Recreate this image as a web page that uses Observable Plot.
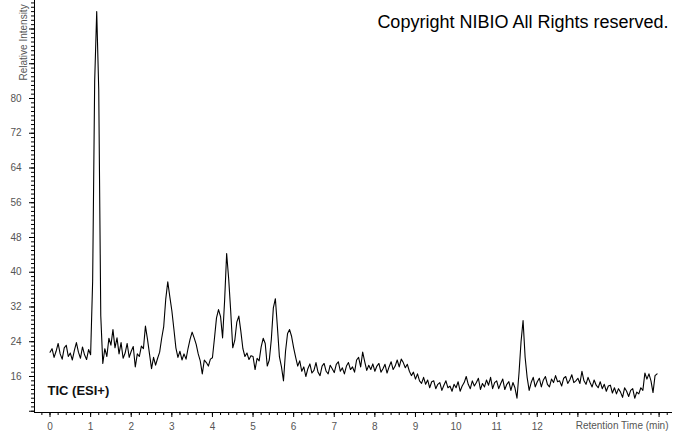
<!DOCTYPE html>
<html>
<head>
<meta charset="utf-8">
<script src="https://cdn.jsdelivr.net/npm/d3@7"></script>
<script src="https://cdn.jsdelivr.net/npm/@observablehq/plot@0.6"></script>
<style>
  html, body { margin: 0; padding: 0; background: #fff; }
  #chart svg { display: block; }
</style>
</head>
<body>
<div id="chart"></div>
<script>
// Retention time sampling of the trace (min)
const tStart = 0;
const tStep = 0.05;

// TIC (ESI+) relative intensity, one value every 0.05 min
const intensity = [
  // 0–1 min
  21.6, 22.4, 20.4, 21.8, 23.6, 21.2, 20.0, 22.6, 23.2, 20.6, 21.4, 19.8, 22.0, 23.8, 21.6, 20.2, 22.8, 21.0, 19.9, 22.2,
  // 1–2 min
  21.0, 38.0, 84.0, 100.0, 82.0, 30.0, 19.0, 22.4, 20.6, 24.8, 23.2, 26.8, 22.6, 24.9, 21.2, 23.8, 20.2, 21.4, 23.6, 20.4,
  // 2–3 min
  21.8, 22.9, 18.2, 21.2, 20.6, 23.0, 22.4, 27.6, 24.6, 21.2, 17.8, 20.4, 18.6, 20.2, 21.6, 24.8, 27.5, 33.8, 37.8, 34.4,
  // 3–4 min
  31.2, 27.0, 22.6, 20.4, 21.8, 19.8, 21.2, 20.0, 22.5, 24.6, 26.2, 24.9, 23.4, 21.2, 19.6, 16.6, 19.8, 19.2, 18.4, 20.0,
  // 4–5 min
  20.3, 24.8, 29.5, 31.4, 29.8, 24.9, 33.5, 44.3, 38.5, 31.0, 22.6, 24.3, 28.5, 29.9, 26.4, 22.4, 20.6, 21.4, 19.9, 20.8,
  // 5–6 min
  20.6, 17.6, 20.2, 19.6, 22.8, 24.8, 23.6, 18.4, 19.8, 24.5, 31.8, 33.9, 27.4, 20.5, 18.2, 15.0, 21.8, 25.9, 26.8, 25.2,
  // 6–7 min
  22.6, 20.4, 18.4, 19.6, 17.2, 18.2, 16.0, 17.8, 18.9, 16.8, 17.4, 19.2, 17.0, 16.2, 18.4, 19.0, 17.2, 16.6, 18.6, 17.8,
  // 7–8 min
  16.9, 18.8, 19.4, 17.2, 18.0, 16.6, 18.4, 19.2, 17.6, 18.2, 17.0, 19.8, 20.4, 18.2, 21.6, 19.4, 17.4, 18.6, 17.6, 18.9,
  // 8–9 min
  17.2, 18.4, 19.0, 17.0, 17.8, 18.8, 16.8, 18.2, 19.4, 17.6, 18.4, 19.8, 18.2, 20.0, 19.2, 18.0, 18.8, 17.2, 16.2, 17.0,
  // 9–10 min
  15.4, 16.6, 15.0, 14.4, 15.8, 14.2, 15.2, 13.4, 14.8, 15.0, 13.2, 14.2, 14.6, 12.8, 14.0, 15.0, 13.4, 13.8, 12.6, 14.2,
  // 10–11 min
  13.4, 14.8, 12.6, 13.8, 14.6, 16.0, 14.2, 13.2, 15.0, 13.8, 14.6, 15.6, 13.0, 14.4, 13.6, 15.2, 14.0, 15.8, 13.2, 14.6,
  // 11–12 min
  15.0, 13.2, 14.4, 15.4, 13.0, 14.2, 14.8, 12.8, 14.6, 13.4, 11.0, 16.8, 24.0, 28.9, 20.5, 15.8, 12.8, 14.6, 15.8, 13.6,
  // 12–13 min
  14.8, 15.6, 13.6, 15.2, 16.0, 14.2, 13.6, 15.4, 14.6, 16.2, 14.8, 15.0, 13.8, 15.6, 16.0, 14.4, 15.2, 16.4, 14.6, 15.0,
  // 13–14 min
  15.6, 14.4, 17.2, 15.0, 14.2, 15.8, 14.6, 13.6, 15.2, 14.0, 13.4, 14.8, 13.2, 14.2, 12.6, 13.8, 14.0, 12.2, 13.4, 12.0,
  // 14–15 min
  13.2, 12.4, 11.2, 13.4, 12.6, 11.4, 12.8, 13.2, 11.0, 12.4, 12.0, 13.4, 12.8, 16.8, 15.4, 16.6, 15.0, 12.3, 16.2, 16.6
];

// Axis ticks and labels
const xMajorTicks = [0, 1, 2, 3, 4, 5, 6, 7, 8, 9, 10, 11, 12, 13, 14, 15];
const xTickLabels = [0, 1, 2, 3, 4, 5, 6, 7, 8, 9, 10, 11, 12];
const yMajorTicks = [8, 16, 24, 32, 40, 48, 56, 64, 72, 80, 88, 96];
const yTickLabels = [16, 24, 32, 40, 48, 56, 64, 72, 80];
const xDomain = [-0.382, 15.33];
const yDomain = [7.71, 102.56];

const xMinorTicks = d3.range(-0.4, 15.41, 0.2).map(d => +d.toFixed(1)).filter(d => d >= xDomain[0]);
const yMinorTicks = d3.range(8, 103, 1);

const data = intensity.map((v, i) => ({t: +(tStart + i * tStep).toFixed(2), v}));

const tickColor = "#000";
const labelColor = "#555";

const chart = Plot.plot({
  width: 674,
  height: 434,
  marginLeft: 34,
  marginRight: 2,
  marginTop: 0,
  marginBottom: 22,
  style: {fontFamily: "'Liberation Sans', Arial, sans-serif", background: "#fff", color: "#000", overflow: "visible"},
  x: {domain: xDomain, axis: null},
  y: {domain: yDomain, axis: null},
  marks: [
    // minor ticks
    Plot.axisX(xMinorTicks, {anchor: "bottom", tickSize: 3, tickFormat: () => "", stroke: tickColor, label: null}),
    Plot.axisY(yMinorTicks, {anchor: "left", tickSize: 3, tickFormat: () => "", stroke: tickColor, label: null}),
    // major ticks with labels
    Plot.axisX(xMajorTicks, {
      anchor: "bottom", tickSize: 5, tickPadding: 5, fontSize: 10,
      tickFormat: d => xTickLabels.includes(d) ? String(d) : "",
      stroke: tickColor, fill: labelColor, label: null
    }),
    Plot.axisY(yMajorTicks, {
      anchor: "left", tickSize: 5, tickPadding: 8, fontSize: 10,
      tickFormat: d => yTickLabels.includes(d) ? String(d) : "",
      stroke: tickColor, fill: labelColor, label: null
    }),
    // axis lines
    Plot.ruleX([xDomain[0]], {stroke: "#000", strokeWidth: 1}),
    Plot.ruleY([yDomain[0]], {stroke: "#000", strokeWidth: 1}),
    // trace
    Plot.line(data, {x: "t", y: "v", stroke: "#000", strokeWidth: 1.1}),
    // texts
    Plot.text(["Relative Intensity"], {
      frameAnchor: "top-left", dx: -15, dy: 80, rotate: -90, textAnchor: "start",
      fontSize: 10, fill: labelColor
    }),
    Plot.text(["Retention Time (min)"], {
      frameAnchor: "bottom-right", dx: -4, dy: 16, textAnchor: "end",
      fontSize: 10, fill: labelColor
    }),
    Plot.text(["TIC (ESI+)"], {
      frameAnchor: "bottom-left", dx: 13, dy: -18, textAnchor: "start",
      fontSize: 13, fontWeight: "bold", fill: "#111"
    }),
    Plot.text(["Copyright NIBIO All Rights reserved."], {
      frameAnchor: "top-right", dx: -4, dy: 15, textAnchor: "end",
      fontSize: 18, fill: "#000"
    })
  ]
});

document.getElementById("chart").appendChild(chart);
</script>
</body>
</html>
